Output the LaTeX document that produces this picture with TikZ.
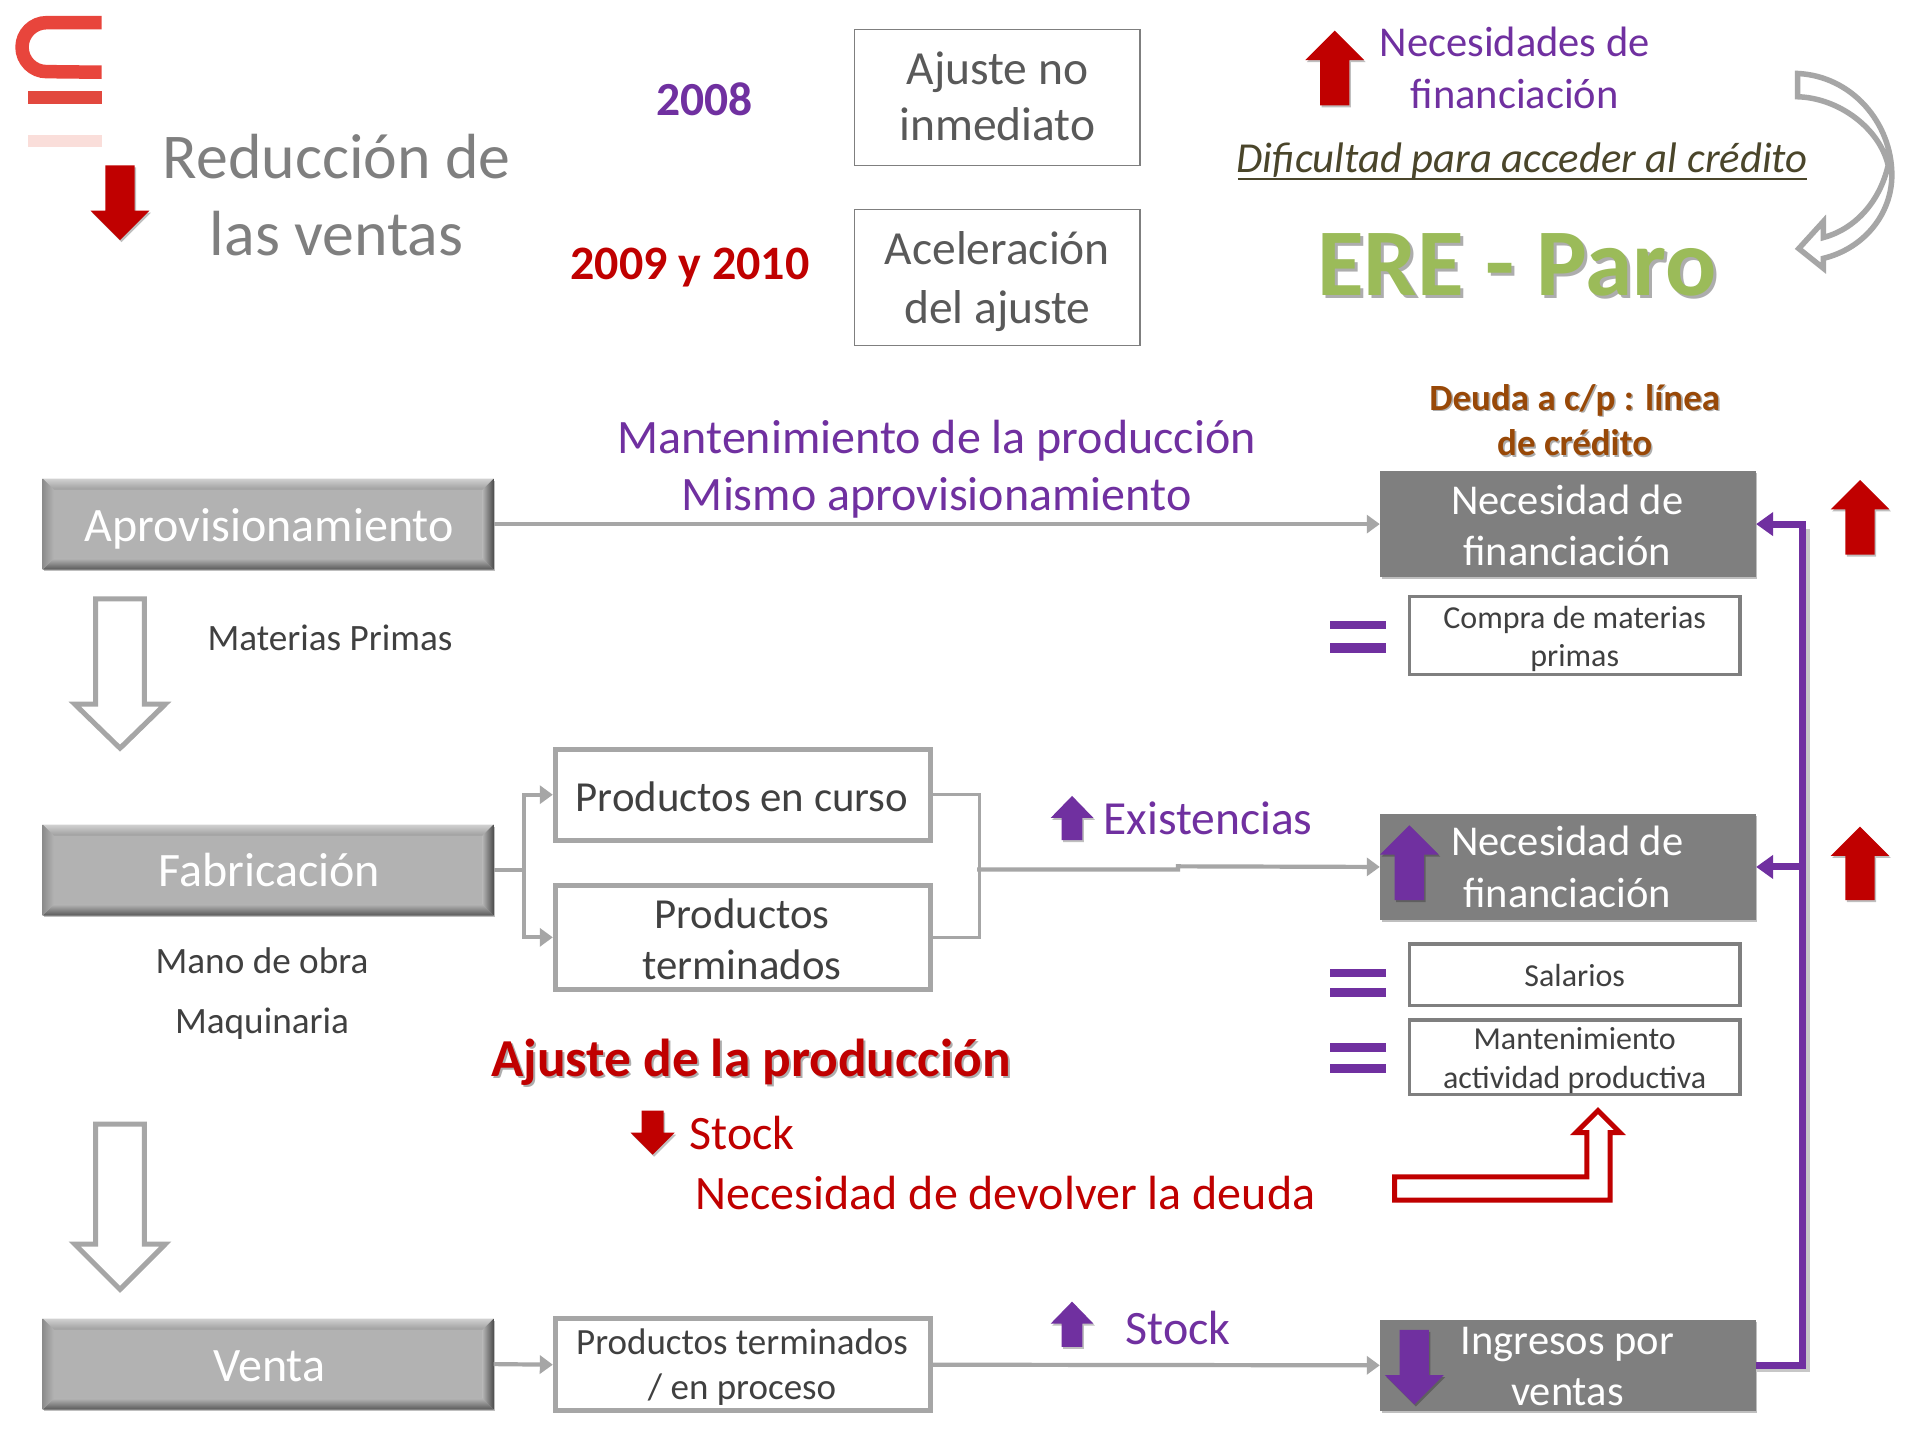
\documentclass[tikz,border=0pt]{standalone}
\usepackage{fontspec}
\setmainfont{Carlito}
\usetikzlibrary{arrows.meta,shadows,calc}
\definecolor{pur}{HTML}{7030A0}
\definecolor{rd}{HTML}{C00000}
\definecolor{gr}{HTML}{7F7F7F}
\definecolor{lg}{HTML}{A6A6A6}
\definecolor{dk}{HTML}{404040}
\definecolor{olv}{HTML}{4A452A}
\definecolor{grn}{HTML}{9BBB59}
\definecolor{brn}{HTML}{984807}
\newcommand\fsz[2]{\fontsize{#1}{#2}\selectfont}
\newcommand\shtxt[2][1.6]{\leavevmode\rlap{\kern#1pt\raisebox{-#1pt}{\textcolor{black!32}{#2}}}#2}
\tikzset{
 sh/.style={drop shadow={shadow xshift=1.5pt,shadow yshift=-2pt,opacity=.25,fill=black}},
 sz/.style 2 args={minimum width=#1*1.2245pt,minimum height=#2*1.2245pt},
 lbl/.style={inner sep=0,anchor=base,align=center},
 plainbox/.style={draw=gr,line width=1.4pt,fill=white,inner sep=0},
 stage/.style={fill=black!30,inner sep=0,sz={368}{74},sh},
 prod/.style={draw=lg,line width=5pt,fill=white,inner sep=0,sh},
 need/.style={fill=gr,inner sep=0,sz={307}{86},sh},
 small/.style={draw=gr,line width=3.5pt,fill=white,inner sep=0},
 ajt/.style={lbl,text=black!65,font=\fsz{47.5}{57}},
 stt/.style={lbl,text=white,font=\fsz{48}{57}},
 prt/.style={lbl,text=dk,font=\fsz{42.8}{51}},
 prs/.style={lbl,text=dk,font=\fsz{37}{46}},
 net/.style={lbl,text=white,font=\fsz{42.5}{51}},
 smt/.style={lbl,text=dk,font=\fsz{32}{39}},
 conn/.style={draw=lg,line width=4.2pt,-{Triangle[length=13pt,width=18pt]}},
 plainline/.style={draw=lg,line width=3pt},
 pline/.style={draw=pur,line width=7pt,-{Triangle[length=17pt,width=23pt]}},
}
\newcommand\upar[7]{\fill[#7,sh] ({#1},{#2}) -- ({#1+#3},{#6}) -- ({#1+#4},{#6}) -- ({#1+#4},{#5}) -- ({#1-#4},{#5}) -- ({#1-#4},{#6}) -- ({#1-#3},{#6}) -- cycle;}
\newcommand\bevel[1]{%
 \shade[top color=black!18,bottom color=black!38] (#1.north west) -- (#1.north east) -- ($(#1.north east)+(-9,9)$) -- ($(#1.north west)+(9,9)$) -- cycle;
 \shade[top color=black!30,bottom color=black!65] (#1.south west) -- (#1.south east) -- ($(#1.south east)+(-9,-9)$) -- ($(#1.south west)+(9,-9)$) -- cycle;
 \shade[left color=black!45,right color=black!30] (#1.north west) -- (#1.south west) -- ($(#1.south west)+(9,-9)$) -- ($(#1.north west)+(9,9)$) -- cycle;
 \shade[left color=black!30,right color=black!70] (#1.north east) -- (#1.south east) -- ($(#1.south east)+(-9,-9)$) -- ($(#1.north east)+(-9,9)$) -- cycle;
}
\begin{document}
\begin{tikzpicture}[x=1.2245pt,y=-1.2245pt]
\useasboundingbox (0,0) rectangle (1568,1176);
\fill[white] (0,0) rectangle (1568,1176);
% logo
\draw[line width=13.5pt,color={rgb,255:red,232;green,69;blue,60}] (83,18.5) -- (38,18.5) arc[start angle=90,end angle=270,x radius=20,y radius=-20] -- (83,59);
\fill[color={rgb,255:red,226;green,72;blue,62}] (23,74) rectangle (83,85);
\fill[color={rgb,255:red,250;green,222;blue,218}] (23,110) rectangle (83,120);
% top left
\upar{98}{196}{-24}{12}{135}{172}{rd}
\node[lbl,text=gr,font=\fsz{63.8}{76}] (reda) at (275,146) {Reducción de};
\node[lbl,text=gr,font=\fsz{63.8}{76}] (redb) at (275,209) {las ventas};
\node[lbl,text=pur,font=\fsz{47.5}{57}\bfseries] (y1) at (575.5,94) {2008};
\node[lbl,text=rd,font=\fsz{48}{57}\bfseries] (y2) at (563.5,228) {2009 y 2010};
\node[plainbox,sz={233}{111}] (aj1) at (814.5,79.5) {};
\node[plainbox,sz={233}{111}] (aj2) at (814.5,226.5) {};
\node[ajt] (aj1a) at (814.5,69) {Ajuste no};
\node[ajt] (aj1b) at (814.5,115) {inmediato};
\node[ajt] (aj2a) at (814.5,216) {Aceleración};
\node[ajt] (aj2b) at (814.5,264) {del ajuste};
% top right
\upar{1090}{25}{24}{12}{86}{49}{rd}
\node[lbl,text=pur,font=\fsz{42.5}{51}] (n1) at (1237,46) {Necesidades de};
\node[lbl,text=pur,font=\fsz{42.5}{51}] (n2) at (1237,89) {financiación};
\node[lbl,text=olv,font=\fsz{42.7}{51}\itshape] (dif) at (1243,141) {Dificultad para acceder al crédito};
\draw[olv,line width=2.2pt] (1011,146) -- (1476,146);
\node[lbl,text=grn,font=\fsz{95.5}{114}\bfseries] (ere) at (1239,241) {\shtxt[3]{ERE - Paro}};
\draw[lg,line width=5.5pt,fill=white,line join=miter,sh] (1468,60) .. controls (1512,62) and (1545,100) .. (1545,143) .. controls (1545,175) and (1522,203) .. (1489,211) -- (1489,219) -- (1469,203) -- (1489,181) -- (1489,194) .. controls (1515,187) and (1535,165) .. (1542,135) .. controls (1535,105) and (1502,80) .. (1468,79) -- cycle;
\node[lbl,text=brn,font=\fsz{37}{45}\bfseries] (d1) at (1286,335) {\shtxt{Deuda a c/p : línea}};
\node[lbl,text=brn,font=\fsz{37}{45}\bfseries] (d2) at (1286,372) {\shtxt{de crédito}};
\node[lbl,text=pur,font=\fsz{48}{57}] (m1) at (765,370) {Mantenimiento de la producción};
\node[lbl,text=pur,font=\fsz{48}{57}] (m2) at (765,417) {Mismo aprovisionamiento};
% stages
\node[stage] (aprov) at (219,428) {};
\node[stage] (fab) at (219,710.5) {};
\node[stage] (venta) at (219,1114) {};
\bevel{aprov}\bevel{fab}\bevel{venta}
\node[stt] (t1) at (220,442) {Aprovisionamiento};
\node[stt] (t2) at (220,724) {Fabricación};
\node[stt] (t3) at (220,1128) {Venta};
% outline arrows
\draw[lg,line width=5pt,fill=white,sh] (78,489) -- (118,489) -- (118,575) -- (135,575) -- (98,611) -- (61,575) -- (78,575) -- cycle;
\draw[lg,line width=5pt,fill=white,sh] (78,918) -- (118,918) -- (118,1016) -- (135,1016) -- (98,1053) -- (61,1016) -- (78,1016) -- cycle;
\node[lbl,text=dk,font=\fsz{37.2}{45}] (mp) at (269.5,531) {Materias Primas};
\node[lbl,text=dk,font=\fsz{37.2}{45}] (mo) at (214,795) {Mano de obra};
\node[lbl,text=dk,font=\fsz{37.2}{45}] (mq) at (214,844) {Maquinaria};
% product boxes
\node[prod,sz={306}{74}] (pc) at (606.5,649) {};
\node[prod,sz={306}{85}] (pt) at (606.5,765.5) {};
\node[prod,sz={306}{75}] (pp) at (606.5,1114.5) {};
\node[prt] (pct) at (606,663) {Productos en curso};
\node[prt] (pta) at (606,758) {Productos};
\node[prt] (ptb) at (606,800) {terminados};
\node[prs] (ppa) at (606,1106) {Productos terminados};
\node[prs] (ppb) at (606,1143) {/ en proceso};
% needs
\node[need] (nec1) at (1280.5,428) {};
\node[need] (nec2) at (1280.5,708) {};
\node[need,sz={307}{74}] (ing) at (1280.5,1115) {};
\node[net] (nt1) at (1280,420) {Necesidad de};
\node[net] (nt2) at (1280,462) {financiación};
\node[net] (nt3) at (1280,699) {Necesidad de};
\node[net] (nt4) at (1280,741) {financiación};
\node[net] (nt5) at (1280,1106) {Ingresos por};
\node[net] (nt6) at (1280,1148) {ventas};
\node[small,sz={270}{64}] (cm) at (1286,519) {};
\node[small,sz={270}{50}] (sal) at (1286,796) {};
\node[small,sz={270}{61}] (man) at (1286,863.5) {};
\node[smt] (ct1) at (1286,513) {Compra de materias};
\node[smt] (ct2) at (1286,544) {primas};
\node[smt] (st0) at (1286,806) {Salarios};
\node[smt] (mt1) at (1286,857) {Mantenimiento};
\node[smt] (mt2) at (1286,889) {actividad productiva};
% connectors
\draw[conn] (aprov.east) -- (nec1.west);
\draw[conn] (fab.east) -- ++(25,0) coordinate (fj) |- (pc.west);
\draw[conn] (fj) |- (pt.west);
\draw[plainline] (pc.east) -- ++(38,0) coordinate (rj) |- (pt.east);
\coordinate (rm) at (798,710);
\draw[conn] (rm) -- (962,710) -- (962,707.5) -- (nec2.west);
\draw[conn] (venta.east) -- (pp.west);
\draw[conn] (pp.east) -- (ing.west);
% purple bus
\coordinate (bus1) at (1472,428);
\coordinate (bus2) at (1472,708);
\draw[black!22,line width=6pt] (1434,1118) -- (1476,1118) -- (1476,432);
\draw[pline] (ing.east) -| (bus1) -- (nec1.east);
\draw[pline] (bus2) -- (nec2.east);
% block arrows
\upar{1151}{674}{24}{12}{735}{698}{pur}
\upar{1155}{1147}{-24}{12}{1086}{1123}{pur}
\upar{1519}{392}{24}{12}{453}{416}{rd}
\upar{1519}{675}{24}{12}{735}{699}{rd}
\upar{875.5}{650}{17.5}{8.5}{686}{668}{pur}
\upar{875.5}{1063}{17.5}{8.5}{1100}{1081}{pur}
\upar{533}{943}{-18}{9}{907}{925}{rd}
\node[lbl,anchor=base west,text=pur,font=\fsz{47.5}{57}] (ex) at (901,681.5) {Existencias};
\node[lbl,anchor=base west,text=pur,font=\fsz{48}{57}] (st) at (919,1098) {Stock};
\node[lbl,anchor=base west,text=rd,font=\fsz{48}{57}] (st2) at (563,939) {Stock};
\node[lbl,anchor=base west,text=rd,font=\fsz{53.4}{64}\bfseries] (aj) at (401,879) {\shtxt[2]{Ajuste de la producción}};
\node[lbl,anchor=base west,text=rd,font=\fsz{48}{57}] (dv) at (568,988) {Necesidad de devolver la deuda};
% equals
\foreach \a/\b in {507/514,525/533,791/798,807/814,852/859,869/876}{\fill[pur] (1086,\a) rectangle (1132,\b);}
% red bent arrow
\draw[rd,line width=5pt,fill=white,sh] (1139,961) -- (1296,961) -- (1296,925) -- (1287,925) -- (1305,907) -- (1323,925) -- (1315,925) -- (1315,980) -- (1139,980) -- cycle;
\end{tikzpicture}
\end{document}
